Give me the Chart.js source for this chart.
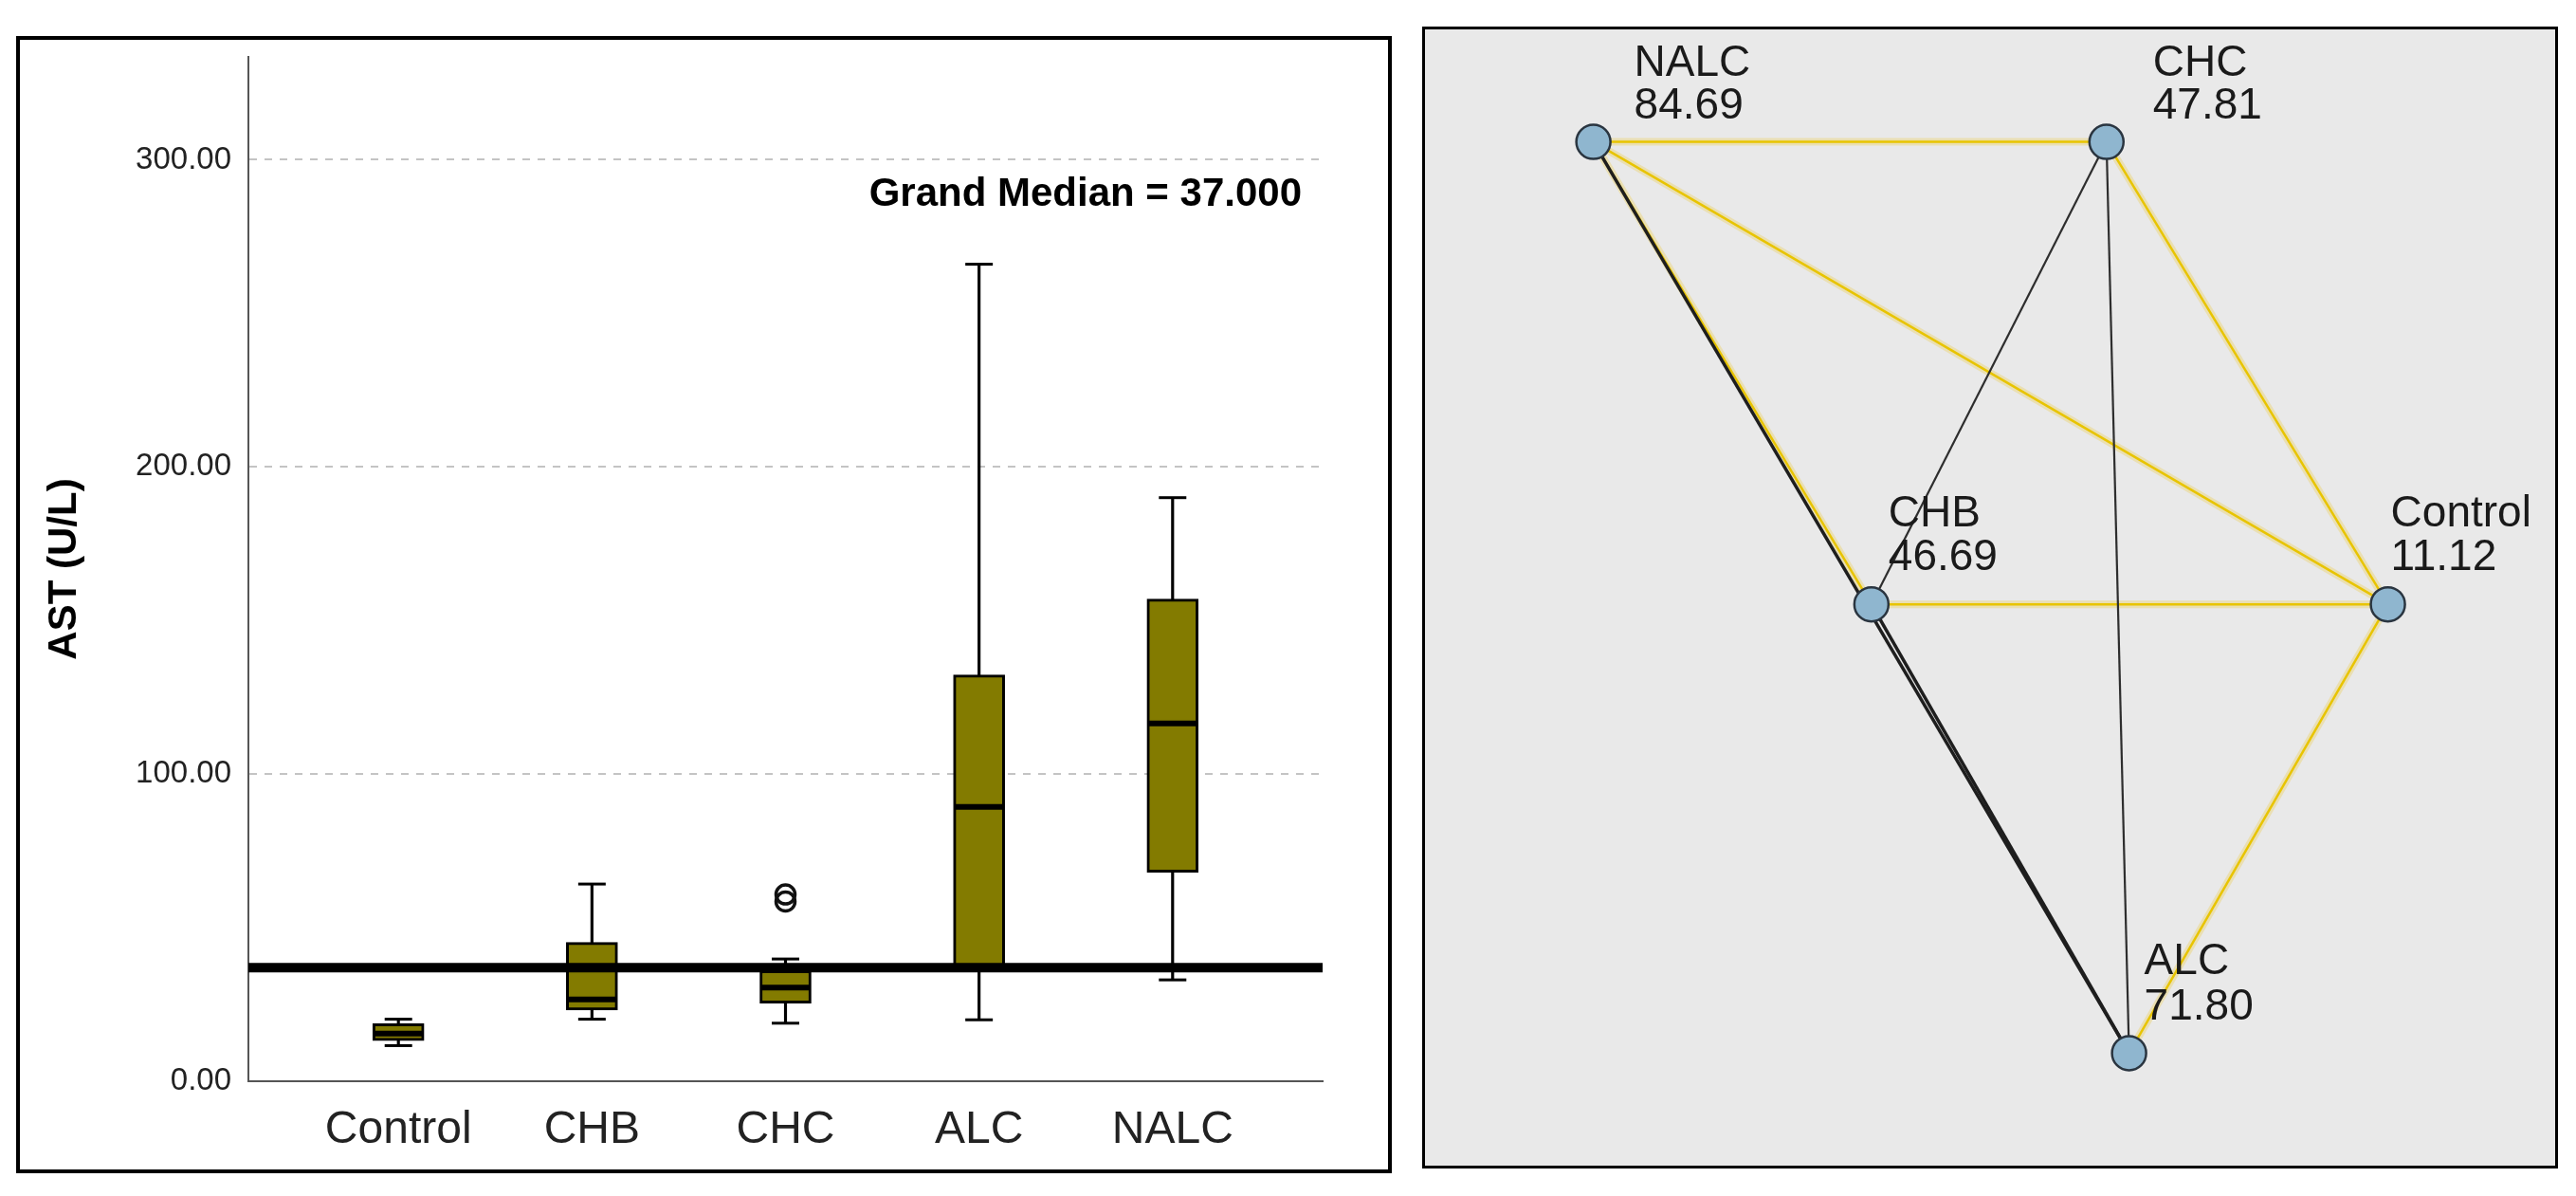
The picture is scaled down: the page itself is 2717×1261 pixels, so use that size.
<!DOCTYPE html>
<html><head><meta charset="utf-8">
<script src="https://cdn.jsdelivr.net/npm/chart.js@4.4.1/dist/chart.umd.min.js"></script>
<style>
html,body{margin:0;padding:0;background:#fff;width:2717px;height:1261px;overflow:hidden}
#p1{position:absolute;left:17px;top:38px;width:1443px;height:1191px;border:4px solid #000;background:#fff}
#p2{position:absolute;left:1500px;top:28px;width:1192px;height:1198px;border:3px solid #000;background:#e9e9e9}
canvas{display:block}
</style></head><body>
<div id="p1"><canvas id="c1"></canvas></div>
<div id="p2"><canvas id="c2"></canvas></div>
<script>
// ---------- data: box plot ----------
const categories = ['Control', 'CHB', 'CHC', 'ALC', 'NALC'];
const whiskerMin = [11.6, 20.2, 18.9, 20.0, 33.0];
const quart1     = [13.2, 23.2, 25.4, 37.5, 68.0];
const medians    = [15.5, 26.6, 30.5, 89.3, 116.5];
const quart3     = [18.7, 45.2, 36.0, 132.3, 157.0];
const whiskerMax = [20.2, 64.2, 39.8, 266.0, 190.0];
const outlierCat = [3, 3];
const outlierVal = [58.5, 60.8];
const grandMedian = 37.0;
const yTicks = [0, 100, 200, 300];

// ---------- data: pairwise comparison graph ----------
const nodeNames = ['Control', 'CHB', 'CHC', 'ALC', 'NALC'];
const meanRanks = [11.12, 46.69, 47.81, 71.80, 84.69];
const nodeX = [85.2, 39.5, 60.3, 62.3, 14.9];
const nodeY = [49.4, 49.4, 90.1, 9.9, 90.1];
const sigPairs = [['NALC','CHC'],['NALC','Control'],['NALC','CHB'],['CHC','Control'],['CHB','Control'],['Control','ALC']];
const nonSigPairs = [['NALC','ALC'],['CHB','ALC'],['CHC','CHB'],['CHC','ALC']];

// ---------- styles ----------
const FONT = '"Liberation Sans", Arial, sans-serif';
const OLIVE = '#837b00';
const X_MIN = 0.225, X_MAX = 5.775, Y_MAX = 333.5;
const labelStyle = { // px offsets of the two label lines from node centre
  dx:   {Control: 3,  CHB: 18,  CHC: 49,  ALC: 16,  NALC: 43},
  name: {Control: -82, CHB: -82, CHC: -70, ALC: -83, NALC: -70},
  val:  {Control: -36, CHB: -36, CHC: -25, ALC: -35, NALC: -25}
};

const xi = i => i + 1;

const grandMedianText = {
  id: 'gmText',
  afterDraw(chart) {
    const {ctx, chartArea, scales} = chart;
    ctx.save();
    ctx.font = 'bold 42px ' + FONT;
    ctx.fillStyle = '#000';
    ctx.textAlign = 'right';
    ctx.textBaseline = 'alphabetic';
    ctx.fillText('Grand Median = ' + grandMedian.toFixed(3), chartArea.right - 22, scales.y.getPixelForValue(285));
    ctx.restore();
  }
};

new Chart(document.getElementById('c1'), {
  type: 'bar',
  data: {
    datasets: [
      { type: 'line', order: 0, data: [{x: X_MIN, y: grandMedian}, {x: X_MAX, y: grandMedian}],
        borderColor: '#000', borderWidth: 10, pointRadius: 0, fill: false },
      { type: 'scatter', order: 1, data: medians.map((v, i) => ({x: xi(i), y: v})),
        pointStyle: 'line', pointRadius: 26, borderColor: '#000', pointBorderWidth: 6 },
      { type: 'scatter', order: 1, data: outlierVal.map((v, i) => ({x: outlierCat[i], y: v})),
        pointStyle: 'circle', pointRadius: 10, pointBorderWidth: 3.5, borderColor: '#111', backgroundColor: 'rgba(0,0,0,0)' },
      { type: 'bar', order: 2, grouped: false, data: quart1.map((v, i) => ({x: xi(i), y: [v, quart3[i]]})),
        backgroundColor: OLIVE, borderColor: '#000', borderWidth: 3, borderSkipped: false, barThickness: 54 },
      { type: 'scatter', order: 3,
        data: whiskerMin.map((v, i) => ({x: xi(i), y: v})).concat(whiskerMax.map((v, i) => ({x: xi(i), y: v}))),
        pointStyle: 'line', pointRadius: 14.5, borderColor: '#000', pointBorderWidth: 3 },
      { type: 'bar', order: 4, grouped: false, data: whiskerMin.map((v, i) => ({x: xi(i), y: [v, whiskerMax[i]]})),
        backgroundColor: '#000', borderWidth: 0, barThickness: 2.5 }
    ]
  },
  options: {
    responsive: true, maintainAspectRatio: false, animation: false, events: [],
    layout: { autoPadding: false, padding: { left: 0, right: 69, top: 0, bottom: 0 } },
    plugins: { legend: { display: false }, tooltip: { enabled: false } },
    scales: {
      x: {
        type: 'linear', min: X_MIN, max: X_MAX, offset: false,
        afterBuildTicks: s => { s.ticks = categories.map((c, i) => ({value: xi(i)})); },
        afterFit: s => { s.height = 93; },
        grid: { display: false, drawTicks: false, offset: false },
        border: { display: true, color: '#555', width: 2 },
        ticks: { callback: v => categories[Math.round(v) - 1], font: { size: 48, family: FONT }, color: '#222', padding: 23, maxRotation: 0, autoSkip: false }
      },
      y: {
        min: 0, max: Y_MAX,
        afterBuildTicks: s => { s.ticks = yTicks.map(v => ({value: v})); },
        afterFit: s => { s.width = 241; s.paddingTop = 18; s.paddingBottom = 0; },
        grid: { drawTicks: false, lineWidth: 2, color: c => (c.tick && c.tick.value === 0) ? 'rgba(0,0,0,0)' : '#c4c4c4' },
        border: { display: true, color: '#555', width: 2, dash: [8, 8] },
        ticks: { callback: v => Number(v).toFixed(2), font: { size: 33, family: FONT }, color: '#222', padding: 18 },
        title: { display: true, text: 'AST (U/L)', font: { size: 42, weight: 'bold', family: FONT }, color: '#000', padding: { top: 22, bottom: 0 } }
      }
    }
  },
  plugins: [grandMedianText]
});

// ---------- pairwise comparison graph ----------
const idx = n => nodeNames.indexOf(n);
const edgeData = p => [{x: nodeX[idx(p[0])], y: nodeY[idx(p[0])]}, {x: nodeX[idx(p[1])], y: nodeY[idx(p[1])]}];
const edgeSets = [];
sigPairs.forEach(p => {
  edgeSets.push({ type: 'scatter', showLine: true, order: 3, data: edgeData(p), borderColor: 'rgba(236,210,110,0.45)', borderWidth: 8, pointRadius: 0 });
  edgeSets.push({ type: 'scatter', showLine: true, order: 2, data: edgeData(p), borderColor: '#e8c400', borderWidth: 2.5, pointRadius: 0 });
});
nonSigPairs.forEach((p, k) => {
  edgeSets.push({ type: 'scatter', showLine: true, order: 1, data: edgeData(p), borderColor: k < 2 ? '#1e1e1e' : '#2e2e2e', borderWidth: k < 2 ? 3.5 : 2.2, pointRadius: 0 });
});

const nodeLabels = {
  id: 'nodeLabels',
  afterDatasetsDraw(chart) {
    const {ctx, scales} = chart;
    ctx.save();
    ctx.font = '46px ' + FONT;
    ctx.fillStyle = '#1a1a1a';
    ctx.textAlign = 'left';
    ctx.textBaseline = 'alphabetic';
    nodeNames.forEach((n, i) => {
      const px = scales.x.getPixelForValue(nodeX[i]);
      const py = scales.y.getPixelForValue(nodeY[i]);
      ctx.fillText(n, px + labelStyle.dx[n], py + labelStyle.name[n]);
      ctx.fillText(meanRanks[i].toFixed(2), px + labelStyle.dx[n], py + labelStyle.val[n]);
    });
    ctx.restore();
  }
};

new Chart(document.getElementById('c2'), {
  type: 'scatter',
  data: {
    datasets: edgeSets.concat([{
      type: 'scatter', order: 0, data: nodeX.map((v, i) => ({x: v, y: nodeY[i]})),
      pointRadius: 18, pointBorderWidth: 2.5, backgroundColor: '#8fb6cf', borderColor: '#2a3540'
    }])
  },
  options: {
    responsive: true, maintainAspectRatio: false, animation: false, events: [],
    layout: { autoPadding: false, padding: 0 },
    plugins: { legend: { display: false }, tooltip: { enabled: false } },
    scales: {
      x: { type: 'linear', min: 0, max: 100, display: false },
      y: { type: 'linear', min: 0, max: 100, display: false }
    }
  },
  plugins: [nodeLabels]
});
</script>
</body></html>
